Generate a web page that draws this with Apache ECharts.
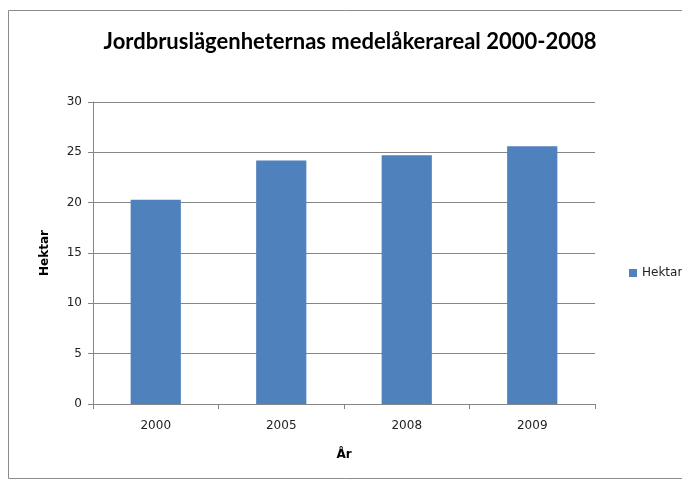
<!DOCTYPE html>
<html>
<head>
<meta charset="utf-8">
<script src="https://cdn.jsdelivr.net/npm/echarts@6/dist/echarts.min.js"></script>
<style>html,body{margin:0;padding:0;background:#fff}#c{width:682px;height:481px}</style>
</head>
<body>
<div id="c"></div>
<script>
const categories = ['2000', '2005', '2008', '2009'];
const hektar = [20.3, 24.2, 24.7, 25.6];
const yTicks = [0, 5, 10, 15, 20, 25, 30];

const chart = echarts.init(document.getElementById('c'), null, {renderer: 'canvas'});
chart.setOption({
  animation: false,
  backgroundColor: '#fff',
  title: {
    text: 'Jordbruslägenheternas medelåkerareal 2000-2008',
    left: 345, top: 26, textAlign: 'center',
    textStyle: {fontFamily: 'Lato', fontWeight: 'bold', fontSize: 22, color: '#000'}
  },
  graphic: [{
    type: 'rect', shape: {x: 8.5, y: 10.5, width: 700, height: 468},
    style: {fill: 'none', stroke: '#8c8c8c', lineWidth: 1}, silent: true
  }],
  legend: {
    orient: 'vertical', left: 624, top: 262,
    itemWidth: 8, itemHeight: 8, itemGap: 5,
    icon: 'rect',
    textStyle: {fontFamily: 'DejaVu Sans', fontSize: 12, color: '#222'},
    data: ['Hektar']
  },
  grid: {left: 93, right: 87, top: 102, bottom: 77},
  xAxis: {
    type: 'category', data: categories,
    name: 'År', nameLocation: 'middle', nameGap: 45,
    nameTextStyle: {fontFamily: 'DejaVu Sans', fontWeight: 'bold', fontSize: 12, color: '#000'},
    axisLine: {lineStyle: {color: '#868686'}},
    axisTick: {show: true, length: 5, lineStyle: {color: '#868686'}},
    axisLabel: {margin: 16, fontFamily: 'DejaVu Sans', fontSize: 12, color: '#222'}
  },
  yAxis: {
    type: 'value', min: yTicks[0], max: yTicks[yTicks.length - 1], interval: yTicks[1] - yTicks[0],
    name: 'Hektar', nameLocation: 'middle', nameGap: 42, nameRotate: 90,
    nameTextStyle: {fontFamily: 'DejaVu Sans', fontWeight: 'bold', fontSize: 12, color: '#000'},
    axisLine: {show: true, lineStyle: {color: '#868686'}},
    axisTick: {show: true, length: 5, lineStyle: {color: '#868686'}},
    splitLine: {lineStyle: {color: '#868686'}},
    axisLabel: {margin: 11, fontFamily: 'DejaVu Sans', fontSize: 12, color: '#222'}
  },
  series: [{
    name: 'Hektar', type: 'bar', data: hektar, barWidth: '40%',
    itemStyle: {color: '#4F81BD'}
  }]
});
</script>
</body>
</html>
